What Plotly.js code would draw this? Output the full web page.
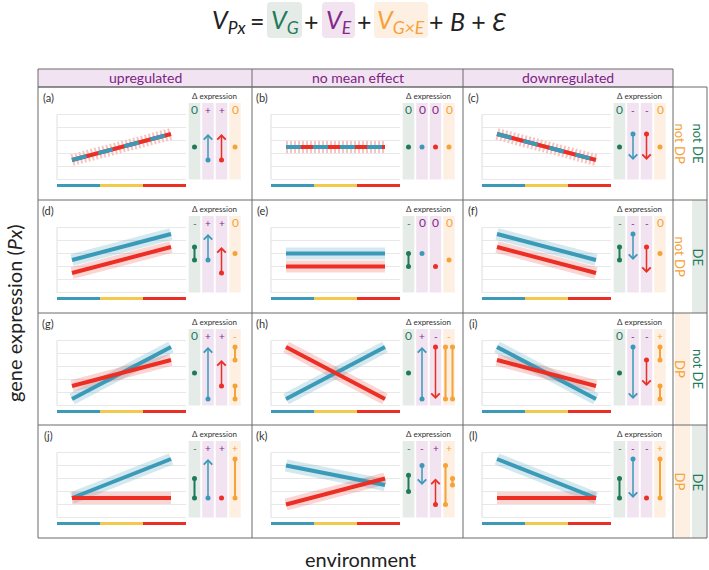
<!DOCTYPE html>
<html><head><meta charset="utf-8">
<script src="https://cdn.plot.ly/plotly-3.0.1.min.js"></script>
<style>html,body{margin:0;padding:0;background:#fff}</style>
</head><body><div id="chart" style="width:709px;height:570px"></div>
<script>
// ---------------- DATA ----------------
const panelLabels = ['(a)','(b)','(c)','(d)','(e)','(f)','(g)','(h)','(i)','(j)','(k)','(l)'];
const columnHeaders = ['upregulated','no mean effect','downregulated'];
const rowDELabels = ['not DE','DE','not DE','DE'];
const rowDPLabels = ['not DP','not DP','DP','DP'];
const rowDEShaded = [false,true,false,true];
const rowDPShaded = [false,false,true,true];
const envPos = [0, 1];
// expression of the blue and red genotype at the first and last environment (grid units 0..5)
const blueStart = [1.5, 2.5, 3.5, 2.5, 3.0, 4.5, 0.5, 0.5, 4.5, 1.5, 4.0, 4.5];
const blueEnd   = [3.5, 2.5, 1.5, 4.5, 3.0, 2.5, 4.5, 4.5, 0.5, 4.5, 2.5, 1.5];
const redStart  = [1.5, 2.5, 3.5, 1.5, 2.0, 3.5, 1.5, 4.5, 3.5, 1.5, 1.0, 1.5];
const redEnd    = [3.5, 2.5, 1.5, 3.5, 2.0, 1.5, 3.5, 0.5, 1.5, 1.5, 3.0, 1.5];
// Δ expression signs: genotype, environment (blue), environment (red), G×E
const deltaG    = ['0','0','0','-','-','-','0','0','0','-','-','-'];
const deltaBlue = ['+','0','-','+','0','-','+','+','-','+','-','-'];
const deltaRed  = ['+','0','-','+','0','-','+','-','-','+','+','-'];
const deltaGxE  = ['0','0','0','0','0','0','-','-','+','+','+','+'];
const envBarLabels = ['env1','env2','env3'];

// ---------------- STYLE / GEOMETRY ----------------
const W = 709, H = 570;
const FONT = 'Lato, "Open Sans", "DejaVu Sans", sans-serif';
const C = {
  blue:'#3b9ab8', red:'#ec2f25', yellow:'#f2c94c',
  green:'#1f7a5a', purple:'#84288a', orange:'#f5a236',
  blueBand:'rgba(59,154,184,0.22)', redBand:'rgba(236,47,37,0.20)', mixBand:'#f3c6c4',
  colG:'#e5ebe7', colE:'#f1e3f0', colGxE:'#fdf0e2',
  border:'#6b6b6b', grid:'#e8e8e8', header:'#f2e3f2', headerText:'#7d2384', text:'#222'
};
const colL = [38, 252, 463], colR = 673, labR = 707;
const rowT = [87, 200, 313, 425], gridBottom = 538, headerTop = 69;
const px = v => v / W, py = v => 1 - v / H;
const X0 = 34, XU = 99, Y0 = 92.5, YU = 13;
const DOM = {x0:2, x1:210, y0:2, y1:110};
const xr = [(DOM.x0 - X0) / XU, (DOM.x1 - X0) / XU];
const yr = [(Y0 - DOM.y1) / YU, (Y0 - DOM.y0) / YU];
const colX = [156.5, 170, 183.5, 197].map(v => (v - X0) / XU);
const colHalf = 5.8 / XU;
const gridXL = (19 - X0) / XU, gridXR = (148 - X0) / XU;
const colTop = (Y0 - 16) / YU, symY = (Y0 - 22.5) / YU, deltaTitleY = (Y0 - 9) / YU;
const barY = (Y0 - 98.5) / YU, labelX = (10 - X0) / XU, labelY = (Y0 - 10) / YU;

const traces = [], shapes = [], ann = [];
const layout = {
  width: W, height: H, margin: {l:0, r:0, t:0, b:0},
  paper_bgcolor: '#fff', plot_bgcolor: 'rgba(0,0,0,0)', showlegend: false,
  font: {family: FONT, color: C.text}
};

function line(xa, ya, ys, color, width, dash) {
  traces.push({type:'scatter', mode:'lines', x: envPos, y: ys, xaxis: xa, yaxis: ya,
    line: {color, width, dash: dash || 'solid'}, hoverinfo:'skip', showlegend:false});
}
function dot(xa, ya, x, y, color) {
  traces.push({type:'scatter', mode:'markers', x:[x], y:[y], xaxis: xa, yaxis: ya,
    marker:{color, size:5}, hoverinfo:'skip', showlegend:false});
}
function dumbbell(xa, ya, x, y0, y1, color) {
  traces.push({type:'scatter', mode:'lines+markers', x:[x, x], y:[y0, y1], xaxis: xa, yaxis: ya,
    line:{color, width:2}, marker:{color, size:5}, hoverinfo:'skip', showlegend:false});
}
function arrow(xa, ya, x, y0, y1, color) {
  dot(xa, ya, x, y0, color);
  ann.push({xref: xa, yref: ya, axref: xa, ayref: ya, x: x, y: y1, ax: x, ay: y0,
    showarrow: true, arrowhead: 4, arrowsize: 1.1, arrowwidth: 1.5, arrowcolor: color,
    text: '', standoff: 0, startstandoff: 0});
}
function roundRect(x0, y0, x1, y1, r) {
  const X = v => px(v), Y = v => py(v);
  return `M${X(x0 + r)},${Y(y0)} L${X(x1 - r)},${Y(y0)} Q${X(x1)},${Y(y0)} ${X(x1)},${Y(y0 + r)} ` +
    `L${X(x1)},${Y(y1 - r)} Q${X(x1)},${Y(y1)} ${X(x1 - r)},${Y(y1)} L${X(x0 + r)},${Y(y1)} ` +
    `Q${X(x0)},${Y(y1)} ${X(x0)},${Y(y1 - r)} L${X(x0)},${Y(y0 + r)} Q${X(x0)},${Y(y0)} ${X(x0 + r)},${Y(y0)} Z`;
}

// ---------------- GLOBAL FRAME ----------------
for (let r = 0; r < 4; r++) {
  const t = rowT[r], b = (r < 3 ? rowT[r + 1] : gridBottom);
  if (rowDPShaded[r]) shapes.push({type:'rect', xref:'paper', yref:'paper', x0:px(675), x1:px(690), y0:py(b), y1:py(t), fillcolor:C.colGxE, line:{width:0}, layer:'below'});
  if (rowDEShaded[r]) shapes.push({type:'rect', xref:'paper', yref:'paper', x0:px(692), x1:px(labR), y0:py(b), y1:py(t), fillcolor:C.colG, line:{width:0}, layer:'below'});
}
shapes.push({type:'rect', xref:'paper', yref:'paper', x0:px(colL[0]), x1:px(colR), y0:py(rowT[0]), y1:py(headerTop), fillcolor:C.header, line:{color:C.border, width:1}, layer:'below'});
[colL[1], colL[2]].forEach(x => shapes.push({type:'line', xref:'paper', yref:'paper', x0:px(x), x1:px(x), y0:py(rowT[0]), y1:py(headerTop), line:{color:C.border, width:1}}));
shapes.push({type:'rect', xref:'paper', yref:'paper', x0:px(colL[0]), x1:px(labR), y0:py(gridBottom), y1:py(rowT[0]), line:{color:C.border, width:1}});
[colL[1], colL[2], colR].forEach(x => shapes.push({type:'line', xref:'paper', yref:'paper', x0:px(x), x1:px(x), y0:py(gridBottom), y1:py(rowT[0]), line:{color:C.border, width:1}}));
[rowT[1], rowT[2], rowT[3]].forEach(y => shapes.push({type:'line', xref:'paper', yref:'paper', x0:px(colL[0]), x1:px(labR), y0:py(y), y1:py(y), line:{color:C.border, width:1}}));

columnHeaders.forEach((h, c) => {
  const xc = ((colL[c]) + (c < 2 ? colL[c + 1] : colR)) / 2;
  ann.push({xref:'paper', yref:'paper', x:px(xc), y:py(78), text:h, showarrow:false, font:{size:14, color:C.headerText}, xanchor:'center', yanchor:'middle'});
});
for (let r = 0; r < 4; r++) {
  const yc = (rowT[r] + (r < 3 ? rowT[r + 1] : gridBottom)) / 2;
  ann.push({xref:'paper', yref:'paper', x:px(680), y:py(yc), text:rowDPLabels[r], textangle:90, showarrow:false, font:{size:13, color:C.orange}, xanchor:'center', yanchor:'middle'});
  ann.push({xref:'paper', yref:'paper', x:px(698), y:py(yc), text:rowDELabels[r], textangle:90, showarrow:false, font:{size:13, color:C.green}, xanchor:'center', yanchor:'middle'});
}
ann.push({xref:'paper', yref:'paper', x:px(14), y:py(313), text:'gene expression (<i>Px</i>)', textangle:-90, showarrow:false, font:{size:20, color:C.text}, xanchor:'center', yanchor:'middle'});
ann.push({xref:'paper', yref:'paper', x:px(360), y:py(559), text:'environment', showarrow:false, font:{size:20, color:C.text}, xanchor:'center', yanchor:'middle'});

// equation
shapes.push({type:'path', xref:'paper', yref:'paper', path:roundRect(267, 2, 302, 38, 4), fillcolor:C.colG, line:{width:0}, layer:'below'});
shapes.push({type:'path', xref:'paper', yref:'paper', path:roundRect(322, 2, 355, 38, 4), fillcolor:C.colE, line:{width:0}, layer:'below'});
shapes.push({type:'path', xref:'paper', yref:'paper', path:roundRect(374, 2, 428, 38, 4), fillcolor:C.colGxE, line:{width:0}, layer:'below'});
const eq = [
  [229, '<i>V<sub>Px</sub></i>', C.text],
  [257, '=', C.text],
  [284.5, '<i>V<sub>G</sub></i>', C.green],
  [311, '+', C.text],
  [338.5, '<i>V<sub>E</sub></i>', C.purple],
  [364, '+', C.text],
  [401, '<i>V<sub>G×E</sub></i>', C.orange],
  [467, '+ <i>B</i> + <i>Ɛ</i>', C.text]
];
eq.forEach(([x, t, col]) => ann.push({xref:'paper', yref:'paper', x:px(x), y:py(21), text:t, showarrow:false, font:{size:25, color:col}, xanchor:'center', yanchor:'middle'}));

// ---------------- PANELS ----------------
for (let i = 0; i < 12; i++) {
  const r = Math.floor(i / 3), c = i % 3;
  const n = i + 1;
  const xa = n === 1 ? 'x' : 'x' + n, ya = n === 1 ? 'y' : 'y' + n;
  const L = colL[c], T = rowT[r];
  layout[n === 1 ? 'xaxis' : 'xaxis' + n] = {domain:[px(L + DOM.x0), px(L + DOM.x1)], range:xr, visible:false, fixedrange:true, anchor:ya};
  layout[n === 1 ? 'yaxis' : 'yaxis' + n] = {domain:[py(T + DOM.y1), py(T + DOM.y0)], range:yr, visible:false, fixedrange:true, anchor:xa};

  for (let g = 0; g <= 5; g++) shapes.push({type:'line', xref:xa, yref:ya, x0:gridXL, x1:gridXR, y0:g, y1:g, line:{color:C.grid, width:1}, layer:'below'});
  shapes.push({type:'line', xref:xa, yref:ya, x0:gridXL, x1:gridXL, y0:0, y1:5, line:{color:'#dedede', width:1}, layer:'below'});
  const segW = (gridXR - gridXL) / envBarLabels.length;
  [C.blue, C.yellow, C.red].forEach((col, k) => shapes.push({type:'line', xref:xa, yref:ya, x0:gridXL + k * segW, x1:gridXL + (k + 1) * segW, y0:barY, y1:barY, line:{color:col, width:3}}));
  [C.colG, C.colE, C.colE, C.colGxE].forEach((col, k) => shapes.push({type:'rect', xref:xa, yref:ya, x0:colX[k] - colHalf, x1:colX[k] + colHalf, y0:0, y1:colTop, fillcolor:col, line:{width:0}, layer:'below'}));

  const bS = blueStart[i], bE = blueEnd[i], rS = redStart[i], rE = redEnd[i];
  const same = bS === rS && bE === rE;
  if (same) {
    line(xa, ya, [bS, bE], C.mixBand, 12, '2px,2px');
    line(xa, ya, [rS, rE], C.red, 4);
    line(xa, ya, [bS, bE], C.blue, 4, '15px,12px');
  } else {
    line(xa, ya, [bS, bE], C.blueBand, 12);
    line(xa, ya, [rS, rE], C.redBand, 12);
    line(xa, ya, [bS, bE], C.blue, 4);
    line(xa, ya, [rS, rE], C.red, 4);
  }

  const mean = (bS + bE + rS + rE) / 4;
  if (deltaG[i] === '0') dot(xa, ya, colX[0], mean, C.green);
  else dumbbell(xa, ya, colX[0], (rS + rE) / 2, (bS + bE) / 2, C.green);
  if (bS === bE) dot(xa, ya, colX[1], bS, C.blue); else arrow(xa, ya, colX[1], bS, bE, C.blue);
  if (rS === rE) dot(xa, ya, colX[2], rS, C.red); else arrow(xa, ya, colX[2], rS, rE, C.red);
  if (deltaGxE[i] === '0') dot(xa, ya, colX[3], mean, C.orange);
  else {
    const pairs = [[bS, rS], [bE, rE]].filter(p => p[0] !== p[1]);
    let overlap = false;
    if (pairs.length === 2) {
      const a = [Math.min(...pairs[0]), Math.max(...pairs[0])], b = [Math.min(...pairs[1]), Math.max(...pairs[1])];
      overlap = a[0] < b[1] && b[0] < a[1];
    }
    pairs.forEach((p, k) => {
      const off = overlap ? (k === 0 ? -3.5 : 3.5) / XU : 0;
      dumbbell(xa, ya, colX[3] + off, p[0], p[1], C.orange);
    });
  }

  ann.push({xref:xa, yref:ya, x:labelX, y:labelY, text:panelLabels[i], showarrow:false, font:{size:11, color:'#333'}, xanchor:'center', yanchor:'middle'});
  ann.push({xref:xa, yref:ya, x:(colX[0] + colX[3]) / 2, y:deltaTitleY, text:'Δ expression', showarrow:false, font:{size:8, color:'#333'}, xanchor:'center', yanchor:'middle'});
  const syms = [deltaG[i], deltaBlue[i], deltaRed[i], deltaGxE[i]];
  const symCols = [C.green, C.purple, C.purple, C.orange];
  syms.forEach((s, k) => ann.push({xref:xa, yref:ya, x:colX[k], y:symY, text:s, showarrow:false, font:{size:s === '0' ? 12 : 10, color:symCols[k]}, xanchor:'center', yanchor:'middle'}));
}

layout.shapes = shapes;
layout.annotations = ann;
Plotly.newPlot('chart', traces, layout, {staticPlot:true, displayModeBar:false});
</script>
</body></html>
